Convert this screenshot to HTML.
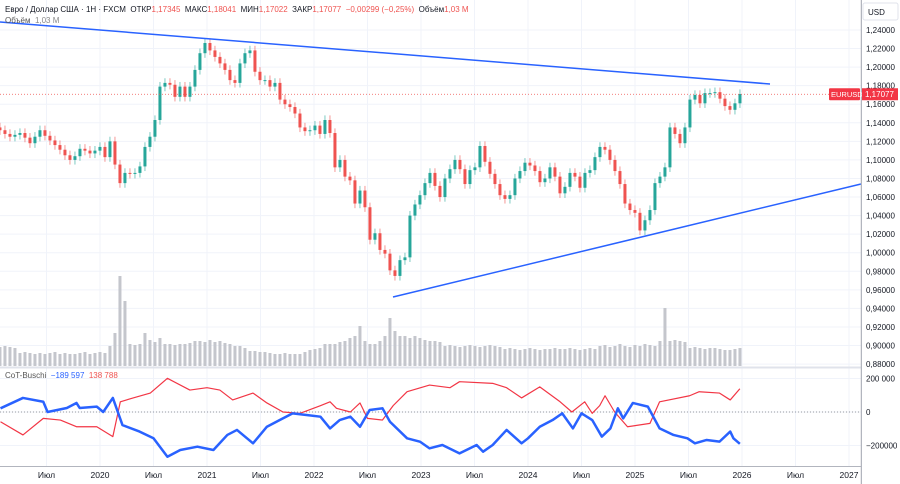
<!DOCTYPE html>
<html><head><meta charset="utf-8">
<style>
html,body{margin:0;padding:0;background:#fff;}
#wrap{position:relative;width:900px;height:484px;overflow:hidden;font-family:"Liberation Sans",sans-serif;}
svg{position:absolute;left:0;top:0;}
.hdr{position:absolute;left:5px;font-size:8px;color:#131722;white-space:nowrap;}
.r{color:#ef5350}
</style></head>
<body>
<div id="wrap">
<svg id="chart" width="900" height="484"></svg>
<div class="hdr" style="top:5px">Евро / Доллар США · 1Н · FXCM &nbsp;ОТКР<span class="r">1,17345</span> &nbsp;МАКС<span class="r">1,18041</span> &nbsp;МИН<span class="r">1,17022</span> &nbsp;ЗАКР<span class="r">1,17077</span> &nbsp;<span class="r">−0,00299 (−0,25%)</span> &nbsp;Объём<span class="r">1,03 M</span></div>
<div class="hdr" style="top:16px;color:#555">Объём &nbsp;<span style="color:#888">1,03 M</span></div>
<div class="hdr" style="top:371px;color:#555">CoT-Buschi &nbsp;<span style="color:#2962ff">−189 597</span> &nbsp;<span class="r">138 788</span></div>
</div>
<script>
const closes=[1.132,1.128,1.125,1.127,1.129,1.124,1.118,1.125,1.132,1.126,1.121,1.116,1.111,1.105,1.100,1.104,1.112,1.110,1.107,1.110,1.114,1.103,1.120,1.095,1.075,1.086,1.085,1.086,1.093,1.114,1.125,1.143,1.179,1.183,1.181,1.168,1.179,1.168,1.179,1.197,1.215,1.226,1.218,1.211,1.204,1.197,1.186,1.183,1.204,1.215,1.218,1.195,1.186,1.186,1.179,1.183,1.165,1.160,1.157,1.150,1.135,1.131,1.132,1.137,1.128,1.143,1.129,1.092,1.100,1.082,1.078,1.053,1.067,1.049,1.014,1.021,1.003,0.999,0.981,0.975,0.992,0.995,1.040,1.052,1.062,1.075,1.086,1.072,1.060,1.080,1.090,1.100,1.090,1.074,1.089,1.092,1.115,1.098,1.085,1.074,1.062,1.058,1.062,1.080,1.088,1.097,1.094,1.088,1.076,1.080,1.092,1.082,1.064,1.071,1.086,1.082,1.070,1.086,1.089,1.103,1.114,1.111,1.100,1.088,1.074,1.053,1.046,1.043,1.024,1.035,1.046,1.075,1.082,1.092,1.135,1.128,1.118,1.135,1.165,1.170,1.161,1.172,1.172,1.173,1.166,1.158,1.154,1.161,1.171];
const volumes=[19,20,19,18,
13,14,13,12,13,12,13,14,12,13,12,12,13,14,12,13,14,13,
20,33,90,65,22,21,22,33,26,24,28,
22,22,21,22,22,23,25,
25,24,26,24,25,23,22,
20,20,18,15,15,14,14,13,
12,12,13,12,12,12,14,16,17,
18,22,22,22,24,25,28,30,40,
25,22,22,25,30,48,35,
30,30,28,30,28,26,25,25,24,
20,21,20,19,20,21,20,19,20,21,20,19,
17,18,17,16,17,18,17,16,17,17,18,17,17,18,17,16,17,18,17,
20,21,19,20,22,20,19,21,20,22,21,20,
25,58,25,26,25,24,
18,19,18,17,18,18,17,16,16,17,18];
const priceTicks=[1.24,1.22,1.20,1.18,1.16,1.14,1.12,1.10,1.08,1.06,1.04,1.02,1.00,0.98,0.96,0.94,0.92,0.90,0.88];
const cotTicks=[200000,0,-200000];
const cotTickLabels=["200 000","0","−200000"];
const blueYears=[2019.07,2019.28,2019.47,2019.51,2019.69,2019.78,2019.81,2019.97,2020.03,2020.12,2020.21,2020.37,2020.50,2020.63,2020.75,2020.91,2021.06,2021.19,2021.28,2021.43,2021.56,2021.68,2021.80,2021.93,2022.06,2022.15,2022.24,2022.34,2022.43,2022.52,2022.64,2022.71,2022.87,2022.99,2023.08,2023.20,2023.36,2023.52,2023.58,2023.67,2023.80,2023.94,2024.00,2024.11,2024.23,2024.32,2024.42,2024.50,2024.60,2024.69,2024.77,2024.84,2024.89,2024.98,2025.12,2025.23,2025.36,2025.49,2025.56,2025.67,2025.79,2025.89,2025.92,2025.98];
const blueVals=[22,84,61,0,24,54,24,32,0,84,-78,-117,-157,-267,-227,-207,-227,-137,-107,-187,-88,-48,-8,-18,-28,-98,-48,-28,-88,12,22,-58,-157,-177,-217,-197,-247,-197,-237,-197,-107,-187,-157,-88,-48,-8,-98,-8,-48,-147,-98,22,-38,54,32,-98,-137,-157,-187,-167,-177,-117,-157,-190];
const redYears=[2019.07,2019.28,2019.47,2019.63,2019.78,2019.97,2020.12,2020.19,2020.31,2020.47,2020.63,2020.84,2021.00,2021.12,2021.24,2021.43,2021.56,2021.71,2021.87,2022.06,2022.15,2022.21,2022.34,2022.43,2022.50,2022.64,2022.74,2022.87,2023.08,2023.27,2023.36,2023.67,2023.80,2023.94,2024.11,2024.30,2024.41,2024.53,2024.60,2024.67,2024.72,2024.81,2024.93,2025.14,2025.23,2025.51,2025.60,2025.79,2025.89,2025.98];
const redVals=[-58,-137,-38,-48,-88,-88,-147,61,84,113,201,131,145,131,72,113,54,0,-8,38,61,22,0,54,-38,-48,38,121,161,145,181,171,145,84,150,61,0,61,-8,38,97,0,-88,-68,61,97,121,113,72,139];
const timeLabels=["Июл","2020","Июл","2021","Июл","2022","Июл","2023","Июл","2024","Июл","2025","Июл","2026","Июл","2027"];
const timeLabelYears=[2019.5,2020,2020.5,2021,2021.5,2022,2022.5,2023,2023.5,2024,2024.5,2025,2025.5,2026,2026.5,2027];

const startYear=2019.065, stepYear=5/107;
const xT=t=>100+(t-2020)*107;
const yP=p=>30+(1.24-p)/0.02*18.56;
const yC=v=>412-v*33.5/200;
const yCv=v=>412-v/1000*33.5/200;
const svg=document.getElementById('chart');
const NS='http://www.w3.org/2000/svg';
function mk(tag,attrs,parent){const e=document.createElementNS(NS,tag);for(const k in attrs)e.setAttribute(k,attrs[k]);(parent||svg).appendChild(e);return e;}

const grid=mk('g',{});


timeLabelYears.forEach(t=>{mk('line',{x1:xT(t),x2:xT(t),y1:0,y2:466,stroke:'#f0f3fa','stroke-width':1},grid);});
priceTicks.forEach(p=>{mk('line',{x1:0,x2:861,y1:yP(p),y2:yP(p),stroke:'#f0f3fa','stroke-width':1},grid);});
cotTicks.forEach(v=>{mk('line',{x1:0,x2:861,y1:yCv(v),y2:yCv(v),stroke:'#f0f3fa','stroke-width':1},grid);});

const vg=mk('g',{fill:'#c4c6cc'});


volumes.forEach((h,i)=>{const x=xT(startYear+i*stepYear);const r=mk('rect',{x:x-1.5,y:366-h,width:3,height:h},vg);

});

const cg=mk('g',{});


closes.forEach((c,i)=>{const o=i?closes[i-1]:c+0.003;const x=xT(startYear+i*stepYear);const up=c>=o;const col=up?'#26a69a':'#ef5350';
const hi=Math.max(o,c)+0.005, lo=Math.min(o,c)-0.005;
const w=mk('line',{x1:x,x2:x,y1:yP(hi),y2:yP(lo),stroke:col,'stroke-width':1,'stroke-opacity':0.6},cg);


const b=mk('rect',{x:x-1.5,y:Math.min(yP(o),yP(c)),width:3,height:Math.max(1,Math.abs(yP(o)-yP(c))),fill:col},cg);

});

const t1=mk('line',{x1:0,y1:22,x2:770,y2:84,stroke:'#2962ff','stroke-width':1.5});


const t2=mk('line',{x1:393,y1:297,x2:861,y2:184,stroke:'#2962ff','stroke-width':1.5});



const pl=mk('line',{x1:0,x2:861,y1:yP(1.17077),y2:yP(1.17077),stroke:'#ef5350','stroke-width':0.8,'stroke-dasharray':'1 2'});



const s1=mk('rect',{x:0,y:366.5,width:900,height:2,fill:'#e0e3eb'});


const s2=mk('line',{x1:0,x2:900,y1:466.5,y2:466.5,stroke:'#b2b5be','stroke-width':1});


const s3=mk('line',{x1:861.5,x2:861.5,y1:0,y2:484,stroke:'#b2b5be','stroke-width':1.5});



const z=mk('line',{x1:0,x2:861,y1:yCv(0),y2:yCv(0),stroke:'#9598a1','stroke-width':1,'stroke-dasharray':'1 2'});



const rl=mk('polyline',{points:redYears.map((t,i)=>xT(t)+','+yC(redVals[i])).join(' '),fill:'none',stroke:'#f23645','stroke-width':1.2,'stroke-linejoin':'round'});


const bl=mk('polyline',{points:blueYears.map((t,i)=>xT(t)+','+yC(blueVals[i])).join(' '),fill:'none',stroke:'#2962ff','stroke-width':2.5,'stroke-linejoin':'round'});



mk('rect',{x:862,y:0,width:38,height:484,fill:'#fff'});
const usd=mk('rect',{x:863,y:3,width:35,height:17,fill:'#fff',stroke:'#e0e3eb',rx:2});


const ut=mk('text',{x:868,y:15,'font-size':8,fill:'#131722','font-family':'Liberation Sans'});ut.textContent='USD';



priceTicks.forEach(p=>{const t=mk('text',{x:866,y:yP(p)+3,'font-size':8,fill:'#131722','font-family':'Liberation Sans'});t.textContent=p.toFixed(5).replace('.',',');

});
cotTicks.forEach((v,i)=>{const t=mk('text',{x:866,y:yCv(v)+3,'font-size':8,fill:'#131722','font-family':'Liberation Sans'});t.textContent=cotTickLabels[i];

});

const tg=mk('rect',{x:829,y:yP(1.17077)-6,width:31,height:12,fill:'#f23645',rx:1});


const tgt=mk('text',{x:831,y:yP(1.17077)+3,'font-size':7.5,fill:'#fff','font-family':'Liberation Sans'});tgt.textContent='EURUSD';


const pt=mk('rect',{x:862,y:yP(1.17077)-6,width:36,height:12,fill:'#f23645'});


const ptt=mk('text',{x:865,y:yP(1.17077)+3,'font-size':8,fill:'#fff','font-family':'Liberation Sans'});ptt.textContent='1,17077';



timeLabels.forEach((l,i)=>{const t=mk('text',{x:xT(timeLabelYears[i]),y:478,'font-size':8.5,fill:'#131722','text-anchor':'middle','font-family':'Liberation Sans'});t.textContent=l;

});
mk('rect',{x:862,y:467,width:38,height:17,fill:'#fff'});
</script>
</body></html>
